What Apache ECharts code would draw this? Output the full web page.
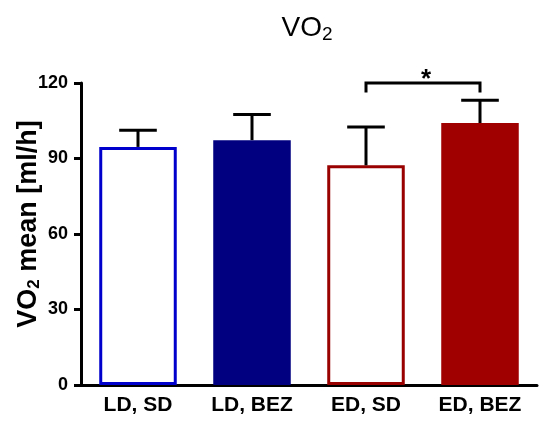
<!DOCTYPE html>
<html>
<head>
<meta charset="utf-8">
<script src="https://cdn.jsdelivr.net/npm/echarts@6/dist/echarts.min.js"></script>
<style>
  html, body { margin: 0; padding: 0; background: #fff; }
  #chart { width: 548px; height: 424px; }
</style>
</head>
<body>
<div id="chart"></div>
<script>
// Groups, mean oxygen consumption and standard deviation (ml/h)
const categories = ['LD, SD', 'LD, BEZ', 'ED, SD', 'ED, BEZ'];
const means = [94.6, 97.3, 87.3, 104.1];
const sds = [6.6, 10.2, 15.2, 9.0];
const yTicks = [0, 30, 60, 90, 120];

// Bar appearance per group: open bars for SD, filled for BEZ
const fills = ['#ffffff', '#000080', '#ffffff', '#a00000'];
const borders = ['#0000cc', '#000080', '#990000', '#a00000'];

// Significance bracket between ED, SD and ED, BEZ
const bracket = { from: 2, to: 3, level: 120, drop: 3.8, mark: '*' };

const font = '"Liberation Sans", Arial, sans-serif';

const chart = echarts.init(document.getElementById('chart'), null, { renderer: 'canvas' });

const barData = means.map((m, i) => ({
  value: m,
  itemStyle: {
    color: fills[i],
    borderColor: borders[i],
    borderWidth: fills[i] === '#ffffff' ? 3 : 0
  }
}));

chart.setOption({
  animation: false,
  backgroundColor: '#ffffff',
  title: {
    text: '{main|VO}{sub|2}',
    left: 302,
    textAlign: 'center',
    top: 8,
    textStyle: {
      rich: {
        main: { fontFamily: font, fontSize: 28, fontWeight: 'normal', color: '#000', lineHeight: 30 },
        sub: { fontFamily: font, fontSize: 19, fontWeight: 'normal', color: '#000', lineHeight: 30, padding: [14, 0, 0, 0] }
      }
    }
  },
  grid: { left: 81, right: 11, top: 83, bottom: 39, containLabel: false, outerBoundsMode: 'none' },
  xAxis: {
    type: 'category',
    data: categories,
    axisLine: { lineStyle: { color: '#000', width: 3 } },
    axisTick: { alignWithLabel: true, length: 6, lineStyle: { color: '#000', width: 3 } },
    axisLabel: { fontFamily: font, fontSize: 21, fontWeight: 'bold', color: '#000', margin: 10 }
  },
  yAxis: {
    type: 'value',
    min: yTicks[0],
    max: yTicks[yTicks.length - 1],
    interval: yTicks[1] - yTicks[0],
    splitLine: { show: false },
    axisLine: { show: true, lineStyle: { color: '#000', width: 3 } },
    axisTick: { show: true, length: 7, lineStyle: { color: '#000', width: 3 } },
    axisLabel: { fontFamily: font, fontSize: 18, fontWeight: 'bold', color: '#000', margin: 13 },
    name: '{main|VO}{sub|2}{main| mean [ml/h]}',
    nameLocation: 'middle',
    nameGap: 38,
    nameMoveOverlap: false,
    nameTextStyle: {
      padding: [0, 0, 0, 20],
      rich: {
        main: { fontFamily: font, fontSize: 27, fontWeight: 'bold', color: '#000' },
        sub: { fontFamily: font, fontSize: 17, fontWeight: 'bold', color: '#000', padding: [12, 0, 0, 0] }
      }
    }
  },
  series: [
    {
      type: 'bar',
      data: barData,
      barWidth: '68%',
      z: 2
    },
    {
      // upper error bars (mean + SD) with caps
      type: 'custom',
      z: 3,
      data: means.map((m, i) => [i, m, sds[i]]),
      renderItem: (params, api) => {
        const i = api.value(0);
        const base = api.coord([i, api.value(1)]);
        const top = api.coord([i, api.value(1) + api.value(2)]);
        const capHalf = api.size([1, 0])[0] * 0.165;
        const style = { stroke: '#000', lineWidth: 3 };
        return {
          type: 'group',
          children: [
            { type: 'line', shape: { x1: base[0], y1: base[1], x2: top[0], y2: top[1] }, style },
            { type: 'line', shape: { x1: top[0] - capHalf, y1: top[1], x2: top[0] + capHalf, y2: top[1] }, style }
          ]
        };
      }
    },
    {
      // significance bracket and star
      type: 'custom',
      z: 4,
      clip: false,
      data: [[bracket.from, bracket.to, bracket.level, bracket.drop]],
      renderItem: (params, api) => {
        const a = api.coord([api.value(0), api.value(2)]);
        const b = api.coord([api.value(1), api.value(2)]);
        const a2 = api.coord([api.value(0), api.value(2) - api.value(3)]);
        const b2 = api.coord([api.value(1), api.value(2) - api.value(3)]);
        return {
          type: 'group',
          children: [
            {
              type: 'polyline',
              shape: { points: [[a2[0], a2[1]], [a[0], a[1]], [b[0], b[1]], [b2[0], b2[1]]] },
              style: { stroke: '#000', lineWidth: 3, fill: null }
            },
            {
              type: 'text',
              style: {
                text: bracket.mark,
                x: (a[0] + b[0]) / 2 + 3,
                y: a[1] + 10,
                textAlign: 'center',
                textVerticalAlign: 'bottom',
                font: 'bold 26px ' + font,
                fill: '#000'
              }
            }
          ]
        };
      }
    }
  ]
});
</script>
</body>
</html>
